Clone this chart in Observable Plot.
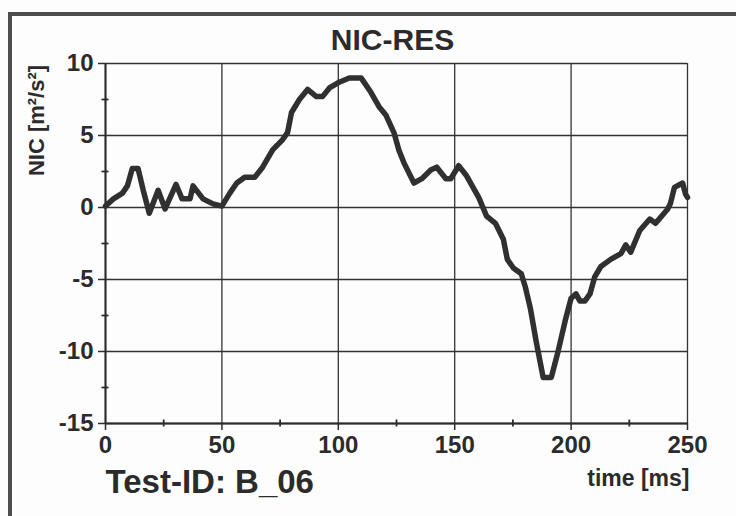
<!DOCTYPE html>
<html>
<head>
<meta charset="utf-8">
<script src="https://cdn.jsdelivr.net/npm/d3@7"></script>
<script src="https://cdn.jsdelivr.net/npm/@observablehq/plot@0.6"></script>
<style>
  html, body { margin: 0; padding: 0; background: #fdfdfd; }
  #page { position: relative; width: 736px; height: 516px; overflow: hidden; }
  #border { position: absolute; left: 8px; top: 12px; width: 800px; height: 600px;
            border-left: 4px solid #4d4d4d; border-top: 4px solid #4d4d4d; }
  #chart { position: absolute; left: 0; top: 0; }
</style>
</head>
<body>
<div id="page">
  <div id="border"></div>
  <div id="chart"></div>
</div>
<script>
// NIC-RES trace of test B_06
const timeMs = [0, 3.4, 7.3, 9.4, 11.5, 14, 16.2, 18.8, 22.6, 25.6, 30.3, 32.9, 36.3, 37.6, 41.9, 46.2, 50,
  53.4, 56.4, 59.8, 64.1, 67.5, 71.8, 76, 78.2, 79.9, 83.3, 86.8, 90.6, 93.2, 96.2, 100.4, 104.7, 109.8,
  114, 117.5, 120.5, 123.9, 126, 128.2, 132.5, 135.9, 139.7, 142.3, 146.2, 148.3, 151.7, 155.1, 160.3,
  163.7, 167.5, 170.9, 172.6, 175.2, 178.6, 180.3, 182.5, 185, 188, 191.5, 194.4, 197.4, 200, 202.1,
  203.8, 205.9, 208.1, 210.2, 212.8, 217, 221.4, 223.5, 225.6, 229.5, 233.8, 236.3, 241.5, 242.7, 244.4,
  247.9, 249.1, 250];
const nicValues = [0.1, 0.6, 1.0, 1.5, 2.7, 2.7, 1.2, -0.4, 1.2, -0.1, 1.6, 0.6, 0.6, 1.5, 0.6, 0.25, 0.1,
  1.0, 1.7, 2.1, 2.1, 2.8, 4.0, 4.7, 5.2, 6.6, 7.5, 8.2, 7.7, 7.7, 8.3, 8.7, 9.0, 9.0,
  8.0, 7.0, 6.4, 5.2, 4.0, 3.1, 1.7, 2.0, 2.6, 2.8, 2.0, 2.0, 2.9, 2.2, 0.7,
  -0.6, -1.1, -2.2, -3.6, -4.2, -4.6, -5.5, -7.0, -9.3, -11.8, -11.8, -10.0, -7.9, -6.3, -6.0,
  -6.5, -6.5, -6.0, -4.8, -4.1, -3.6, -3.2, -2.6, -3.1, -1.6, -0.8, -1.1, -0.1, 0.3, 1.4,
  1.7, 0.95, 0.7];

// Axis ticks
const xDomain = [0, 250];
const yDomain = [-15, 10];
const xTicks = [0, 50, 100, 150, 200, 250];
const yTicks = [-15, -10, -5, 0, 5, 10];
const xMinor = [25, 75, 125, 175, 225];
const yMinor = [-12.5, -7.5, -2.5, 2.5, 7.5];

// Texts
const titleText = "NIC-RES";
const yLabelText = "NIC [m²/s²]";
const xLabelText = "time [ms]";
const testIdText = "Test-ID: B_06";

const rows = timeMs.map((t, i) => ({t, v: nicValues[i]}));
const ink = "#2b2b2b";
const fmt = d => String(d);

const chart = Plot.plot({
  width: 736,
  height: 516,
  marginLeft: 105,
  marginRight: 49,
  marginTop: 63,
  marginBottom: 93,
  style: {
    fontFamily: "'Liberation Sans', Arial, sans-serif",
    fontWeight: "bold",
    fontSize: "24px",
    color: ink,
    background: "transparent",
    overflow: "visible"
  },
  x: {domain: xDomain, label: null},
  y: {domain: yDomain, label: null},
  marks: [
    Plot.gridX(xTicks, {stroke: "#333", strokeOpacity: 1, strokeWidth: 1.3}),
    Plot.gridY(yTicks, {stroke: "#333", strokeOpacity: 1, strokeWidth: 1.3}),
    Plot.ruleX([xDomain[0]], {stroke: ink, strokeWidth: 2}),
    Plot.ruleY([yDomain[0]], {stroke: ink, strokeWidth: 2}),
    // minor ticks crossing the axis lines
    Plot.ruleX(xMinor, {y1: yDomain[0], y2: yDomain[0], insetTop: -3.5, insetBottom: -3.5, stroke: ink, strokeWidth: 1.8}),
    Plot.ruleY(yMinor, {x1: xDomain[0], x2: xDomain[0], insetLeft: -3.5, insetRight: -3.5, stroke: ink, strokeWidth: 1.8}),
    Plot.axisX(xTicks, {tickSize: 7, tickPadding: 5, tickFormat: fmt, stroke: ink, strokeWidth: 1.5, fontSize: 24, fontWeight: "bold", label: null}),
    Plot.axisY(yTicks, {tickSize: 7, tickPadding: 5, tickFormat: fmt, stroke: ink, strokeWidth: 1.5, fontSize: 24, fontWeight: "bold", label: null}),
    Plot.line(rows, {x: "t", y: "v", stroke: "#303030", strokeWidth: 5.5, strokeLinejoin: "round", strokeLinecap: "round"}),
    Plot.text([titleText], {frameAnchor: "top", dx: -4, dy: -23, lineAnchor: "middle", fontSize: 30, fontWeight: "bold", fill: ink}),
    Plot.text([yLabelText], {frameAnchor: "top-left", dx: -69, dy: 57, rotate: -90, textAnchor: "middle", lineAnchor: "middle", fontSize: 22, fontWeight: "bold", fill: ink}),
    Plot.text([testIdText], {frameAnchor: "bottom-left", dy: 59, textAnchor: "start", lineAnchor: "middle", fontSize: 33, fontWeight: "bold", fill: ink}),
    Plot.text([xLabelText], {frameAnchor: "bottom-right", dx: 2, dy: 55, textAnchor: "end", lineAnchor: "middle", fontSize: 23, fontWeight: "bold", fill: ink})
  ]
});
document.getElementById("chart").appendChild(chart);
</script>
</body>
</html>
